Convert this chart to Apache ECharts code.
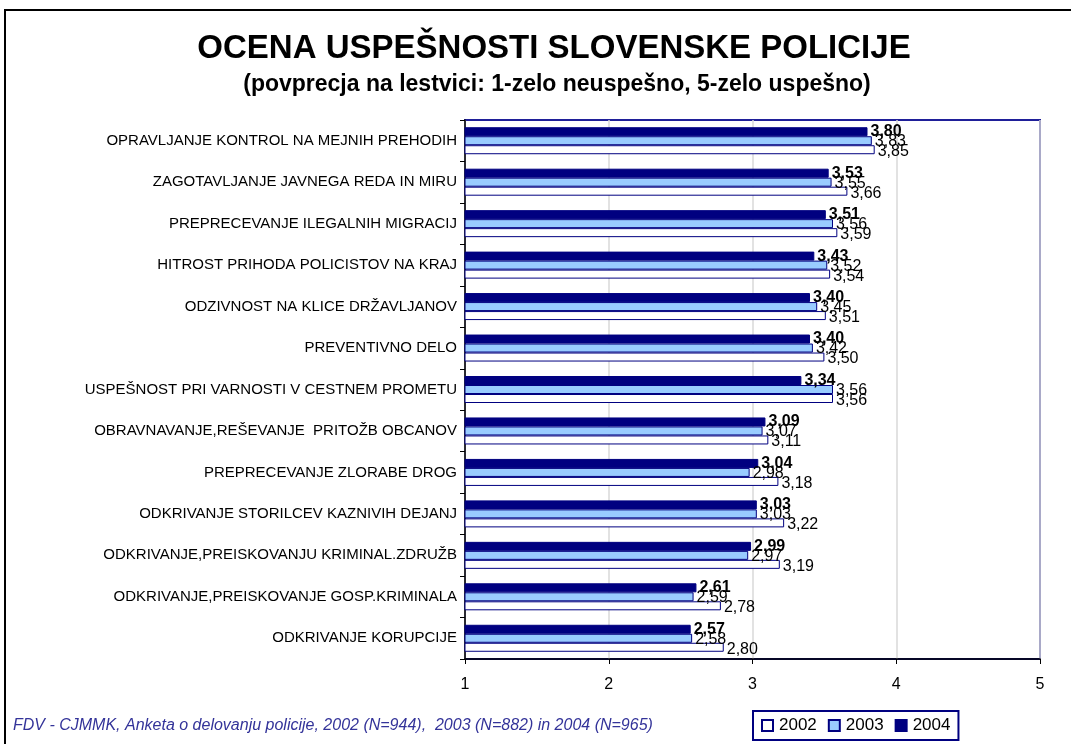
<!DOCTYPE html>
<html>
<head>
<meta charset="utf-8">
<script src="https://cdn.jsdelivr.net/npm/echarts@6/dist/echarts.min.js"></script>
<style>
  html, body { margin: 0; padding: 0; background: #fff; }
  #chart { width: 1071px; height: 744px; }
</style>
</head>
<body>
<div id="chart"></div>
<script>
const categories = [
  'OPRAVLJANJE KONTROL NA MEJNIH PREHODIH',
  'ZAGOTAVLJANJE JAVNEGA REDA IN MIRU',
  'PREPRECEVANJE ILEGALNIH MIGRACIJ',
  'HITROST PRIHODA POLICISTOV NA KRAJ',
  'ODZIVNOST NA KLICE DRŽAVLJANOV',
  'PREVENTIVNO DELO',
  'USPEŠNOST PRI VARNOSTI V CESTNEM PROMETU',
  'OBRAVNAVANJE,REŠEVANJE  PRITOŽB OBCANOV',
  'PREPRECEVANJE ZLORABE DROG',
  'ODKRIVANJE STORILCEV KAZNIVIH DEJANJ',
  'ODKRIVANJE,PREISKOVANJU KRIMINAL.ZDRUŽB',
  'ODKRIVANJE,PREISKOVANJE GOSP.KRIMINALA',
  'ODKRIVANJE KORUPCIJE'
];
const values2004 = [3.80, 3.53, 3.51, 3.43, 3.40, 3.40, 3.34, 3.09, 3.04, 3.03, 2.99, 2.61, 2.57];
const values2003 = [3.83, 3.55, 3.56, 3.52, 3.45, 3.42, 3.56, 3.07, 2.98, 3.03, 2.97, 2.59, 2.58];
const values2002 = [3.85, 3.66, 3.59, 3.54, 3.51, 3.50, 3.56, 3.11, 3.18, 3.22, 3.19, 2.78, 2.80];
const xTicks = [1, 2, 3, 4, 5];

const FONT = '"Liberation Sans", Arial, sans-serif';
const NAVY = '#000080';

const fmt = p => p.value.toFixed(2).replace('.', ',');

// one bar series per year, labels on the right like the Excel original
function barSeries(name, data, color, bold, dy) {
  return {
    name: name,
    type: 'bar',
    data: data,
    barWidth: 9,
    barGap: '0%',
    itemStyle: { color: color, borderColor: NAVY, borderWidth: 1 },
    label: {
      show: true,
      position: 'right',
      distance: 3,
      offset: [0, dy],
      formatter: fmt,
      fontFamily: FONT,
      fontSize: 16,
      fontWeight: bold ? 'bold' : 'normal',
      color: '#000'
    },
    emphasis: { disabled: true }
  };
}

const chart = echarts.init(document.getElementById('chart'));
chart.setOption({
  animation: false,
  backgroundColor: '#fff',
  title: [
    {
      text: 'OCENA USPEŠNOSTI SLOVENSKE POLICIJE',
      left: 549, top: 27, textAlign: 'center',
      textStyle: { fontFamily: FONT, fontSize: 33, fontWeight: 'bold', color: '#000' }
    },
    {
      text: '(povprecja na lestvici: 1-zelo neuspešno, 5-zelo uspešno)',
      left: 552, top: 68, textAlign: 'center',
      textStyle: { fontFamily: FONT, fontSize: 23, fontWeight: 'bold', color: '#000' }
    },
    {
      text: 'FDV - CJMMK, Anketa o delovanju policije, 2002 (N=944),  2003 (N=882) in 2004 (N=965)',
      left: 8, top: 713,
      textStyle: { fontFamily: FONT, fontSize: 16, fontWeight: 'normal', fontStyle: 'italic', color: '#333399' }
    }
  ],
  legend: {
    data: ['2002', '2003', '2004'],
    left: 753, top: 711,
    padding: [6, 8, 6, 8],
    itemWidth: 11, itemHeight: 11, itemGap: 11,
    icon: 'rect',
    borderColor: NAVY, borderWidth: 2,
    textStyle: { fontFamily: FONT, fontSize: 17, color: '#000', padding: [0, 0, 0, 1] },
    selectedMode: false
  },
  graphic: [{
    type: 'rect',
    shape: { x: 5, y: 10, width: 1200, height: 900 },
    style: { fill: 'none', stroke: '#000', lineWidth: 2 },
    silent: true, z: -1
  }],
  grid: {
    left: 465, right: 31, top: 120, bottom: 85,
    show: true, borderColor: '#1f1f99', borderWidth: 2, backgroundColor: 'transparent'
  },
  xAxis: {
    type: 'value', min: 1, max: 5, interval: 1,
    axisLine: { show: true, lineStyle: { color: '#000', width: 1.5 } },
    axisTick: { show: true, length: 5, lineStyle: { color: '#000' } },
    splitLine: { show: true, lineStyle: { color: '#d9d9d9', width: 1.5 } },
    axisLabel: { fontFamily: FONT, fontSize: 16, color: '#000', margin: 18,
      formatter: v => xTicks.includes(v) ? String(v) : '' }
  },
  yAxis: {
    type: 'category', data: categories, inverse: true,
    axisLine: { show: true, lineStyle: { color: '#000', width: 1.5 } },
    axisTick: { show: true, length: 5, lineStyle: { color: '#000' } },
    axisLabel: { fontFamily: FONT, fontSize: 15, color: '#000', margin: 8 }
  },
  series: [
    barSeries('2004', values2004, NAVY, true, 0),
    barSeries('2003', values2003, '#99ccff', false, 1),
    barSeries('2002', values2002, '#ffffff', false, 2)
  ]
});
</script>
</body>
</html>
